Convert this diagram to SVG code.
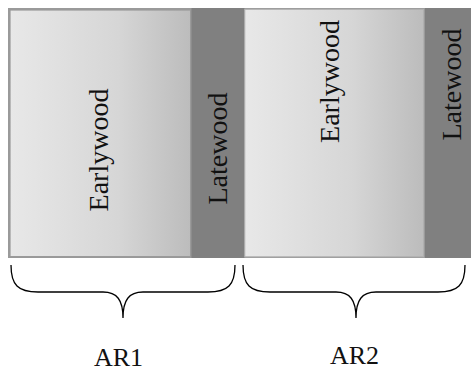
<svg xmlns="http://www.w3.org/2000/svg" width="471" height="371" viewBox="0 0 471 371">
<defs>
<linearGradient id="ew" x1="0" y1="0" x2="1" y2="0">
<stop offset="0" stop-color="#e8e8e8"/>
<stop offset="0.6" stop-color="#d6d6d6"/>
<stop offset="1" stop-color="#bcbcbc"/>
</linearGradient>
</defs>
<style>
.ew{fill:url(#ew);stroke:#9a9a9a;stroke-width:1.6}
.lw{fill:#808080;stroke:none}
.t{font-family:'Liberation Serif','Times New Roman','DejaVu Serif',serif;font-size:28px;fill:#111;text-anchor:middle}
.ar{font-family:'Liberation Serif','Times New Roman','DejaVu Serif',serif;font-size:26px;fill:#111;text-anchor:middle}
.br{fill:none;stroke:#000;stroke-width:1.3}
</style>
<rect x="8" y="8" width="463" height="250" fill="#9a9a9a"/>
<g id="earlywood1">
<rect class="ew" x="9.8" y="9.8" width="181" height="247"/>
<text class="t" font-family="Liberation Serif, serif" transform="translate(108,150) rotate(-90)">Earlywood</text>
</g>
<g id="latewood1">
<rect class="lw" x="191.5" y="8" width="53" height="250"/>
<text class="t" font-family="Liberation Serif, serif" transform="translate(227,148.5) rotate(-90)">Latewood</text>
</g>
<g id="earlywood2">
<rect class="ew" x="244.8" y="9.3" width="178.7" height="247.5" style="stroke:#b0b0b0;stroke-width:1"/>
<text class="t" font-family="Liberation Serif, serif" transform="translate(339,81.5) rotate(-90)">Earlywood</text>
</g>
<g id="latewood2">
<rect class="lw" x="425" y="8" width="46" height="250"/>
<text class="t" font-family="Liberation Serif, serif" transform="translate(461,84.5) rotate(-90)">Latewood</text>
</g>
<g id="connectors">
<path class="br" d="M11,265 C11,285 18,292 38,292 L103,292 C117,292 123,300 123,318 C123,300 129,292 143,292 L208,292 C228,292 235,285 235,265"/>
<path class="br" d="M243,265 C243,285 250,292 270,292 L336,292 C350,292 356,300 356,318 C356,300 362,292 376,292 L438,292 C458,292 465,285 465,265"/>
</g>
<g id="ar1"><text class="ar" font-family="Liberation Serif, serif" x="118.5" y="366">AR1</text></g>
<g id="ar2"><text class="ar" font-family="Liberation Serif, serif" x="354.5" y="364">AR2</text></g>
</svg>
